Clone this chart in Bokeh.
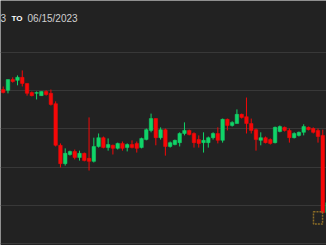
import numpy as np
from bokeh.plotting import figure
from bokeh.models import Range1d, FixedTicker, ColumnDataSource
from bokeh.core.properties import value
from bokeh.embed import file_html
from bokeh.resources import INLINE

# OHLC values (arbitrary price units, grid step = 10)
opens = [40.3, 40.1, 42.9, 42.7, 43.5, 41.9, 39.5, 39.3, 38.7, 39.8,
         39.3, 36.6, 25.7, 20.9, 23.3, 24.1, 22.5, 23.6, 22.3, 21.5,
         25.4, 27.7, 25.1, 25.7, 24.9, 26.2, 25.1, 25.9, 26.2, 25.1,
         27.2, 29.6, 32.7, 27.7, 29.8, 25.4, 25.9, 26.4, 28.8, 29.6,
         28.8, 27.2, 26.4, 26.4, 27.7, 28.8, 27.0, 32.5, 30.9, 31.4,
         33.8, 33.2, 31.4, 29.8, 27.0, 27.7, 27.2, 26.4, 29.3, 30.4,
         29.6, 27.7, 28.3, 29.1, 30.4, 30.1, 29.6, 28.3, 8.1]
highs = [41.1, 42.9, 43.5, 44.0, 45.3, 41.9, 39.8, 39.8, 39.8, 40.1,
         40.3, 37.2, 26.2, 24.9, 24.3, 24.6, 24.3, 23.8, 33.0, 27.7,
         28.8, 28.0, 27.5, 25.9, 26.4, 26.7, 26.2, 27.0, 26.7, 27.7,
         30.1, 34.0, 32.7, 30.4, 30.1, 26.7, 27.2, 29.1, 31.7, 29.8,
         29.1, 28.3, 29.1, 28.0, 29.1, 30.4, 32.7, 32.7, 32.0, 35.1,
         34.0, 38.2, 32.7, 30.1, 29.1, 28.0, 27.5, 30.6, 30.9, 30.6,
         30.1, 29.1, 29.3, 31.2, 30.6, 30.4, 30.1, 29.8, 11.0]
lows = [39.3, 39.3, 42.1, 41.4, 41.1, 38.7, 38.5, 37.7, 38.7, 38.7,
        36.1, 25.4, 19.9, 20.4, 23.0, 22.0, 21.7, 21.5, 19.1, 21.2,
        25.1, 24.9, 24.3, 23.3, 24.6, 24.3, 24.1, 24.9, 23.8, 24.9,
        27.0, 29.1, 25.7, 27.2, 23.0, 25.1, 25.7, 25.4, 28.3, 28.3,
        25.1, 25.1, 23.8, 25.1, 27.2, 26.2, 26.4, 29.6, 30.6, 31.4,
        32.7, 28.8, 28.8, 24.3, 25.7, 26.2, 25.9, 26.2, 29.1, 29.3,
        26.4, 27.5, 28.0, 28.3, 29.6, 28.8, 26.4, 7.9, 7.9]
closes = [39.5, 42.9, 42.4, 43.5, 41.9, 39.3, 38.7, 39.5, 39.8, 39.0,
          36.4, 25.7, 20.9, 23.6, 24.1, 22.5, 23.6, 21.7, 21.5, 25.4,
          27.7, 25.1, 25.9, 24.9, 26.2, 24.9, 25.9, 25.1, 24.9, 27.5,
          29.8, 32.7, 27.7, 29.8, 25.4, 26.4, 27.0, 28.8, 29.6, 28.5,
          26.4, 26.2, 27.0, 27.7, 28.8, 27.0, 32.5, 30.9, 31.7, 33.8,
          33.0, 31.4, 29.6, 27.2, 27.7, 26.4, 26.2, 30.4, 30.6, 29.6,
          27.7, 28.8, 29.1, 30.6, 29.8, 29.1, 28.0, 8.1, 10.7]
grid_levels = [0, 10, 20, 30, 40, 50]
range_start = "05/15/2023"
range_end = "06/15/2023"

GREEN = "#10d468"
RED = "#f50808"

o = np.array(opens); h = np.array(highs); l = np.array(lows); c = np.array(closes)
idx = np.arange(len(o))
up = c >= o
colors = [GREEN if u else RED for u in up]
src = ColumnDataSource(dict(x=idx, top=np.maximum(o, c), bottom=np.minimum(o, c),
                            high=h, low=l, color=colors))

p = figure(width=326, height=245, output_backend="svg", toolbar_location=None,
           x_range=Range1d(-0.566, 67.78), y_range=Range1d(-0.52, 63.6),
           min_border=0, background_fill_color="#222222", border_fill_color="#222222")
p.outline_line_color = None
p.xaxis.visible = False
p.yaxis.visible = False
p.xgrid.grid_line_color = None
p.ygrid.ticker = FixedTicker(ticks=grid_levels)
p.ygrid.grid_line_color = "#383838"
p.ygrid.grid_line_width = 1

p.segment(x0="x", x1="x", y0="low", y1="high", color="color", line_width=1, source=src)
p.vbar(x="x", width=0.74, top="top", bottom="bottom", fill_color="color",
       line_color="color", line_width=0.5, source=src)

# header text (start date runs off the left edge, as in the reference)
p.text(x=[0.62], y=[58.9], text=[range_start], text_align="right", text_baseline="middle",
       text_font=value("Liberation Sans"), text_font_size="10px", text_color="#d0d0d0")
p.text(x=[1.75], y=[58.9], text=["TO"], text_align="left", text_baseline="middle",
       text_font=value("Liberation Sans"), text_font_size="8px", text_font_style="bold",
       text_color="#ffffff")
p.text(x=[5.1], y=[58.9], text=[range_end], text_align="left", text_baseline="middle",
       text_font=value("Liberation Sans"), text_font_size="10px", text_color="#d0d0d0")

# dashed marker near the last candle
p.rect(x=[66.0], y=[6.7], width=1.9, height=3.2, fill_color=None,
       line_color="#8c6d26", line_dash="2 1", line_width=1.5)

open("out.html", "w").write(file_html(p, INLINE))
